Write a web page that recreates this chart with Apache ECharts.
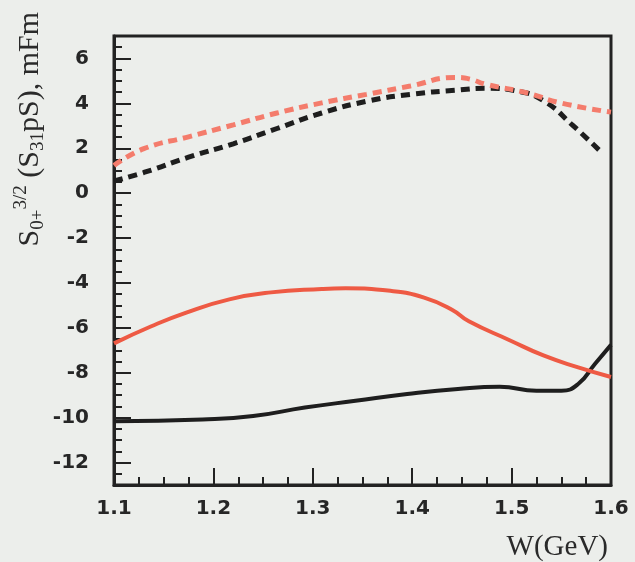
<!DOCTYPE html>
<html>
<head>
<meta charset="utf-8">
<script src="https://cdn.jsdelivr.net/npm/echarts@6/dist/echarts.min.js"></script>
<style>
html,body{margin:0;padding:0;background:#eceeeb}
#chart{width:635px;height:562px}
</style>
</head>
<body>
<div id="chart"></div>
<script>
// x tick labels (GeV) and y tick labels (mFm)
var xTicks = [1.1, 1.2, 1.3, 1.4, 1.5, 1.6];
var yTicks = [-12, -10, -8, -6, -4, -2, 0, 2, 4, 6];

// solid black curve
var wBlack = [1.10, 1.189, 1.24, 1.292, 1.343, 1.395, 1.446, 1.488, 1.525, 1.55, 1.567, 1.584, 1.60];
var sBlack = [-10.16, -10.08, -9.93, -9.55, -9.25, -8.95, -8.72, -8.62, -8.80, -8.80, -8.50, -7.60, -6.76];

// solid red curve
var wRed = [1.10, 1.137, 1.172, 1.216, 1.258, 1.309, 1.333, 1.378, 1.412, 1.44, 1.457, 1.498, 1.532, 1.567, 1.60];
var sRed = [-6.69, -5.94, -5.33, -4.73, -4.42, -4.27, -4.24, -4.35, -4.65, -5.19, -5.71, -6.55, -7.23, -7.76, -8.19];

// dashed black curve
var wBlackDash = [1.10, 1.13, 1.175, 1.22, 1.264, 1.309, 1.354, 1.398, 1.443, 1.474, 1.505, 1.533, 1.561, 1.589];
var sBlackDash = [0.54, 0.92, 1.60, 2.20, 2.88, 3.57, 4.09, 4.40, 4.58, 4.67, 4.55, 4.09, 3.04, 1.88];

// dashed red curve
var wRedDash = [1.10, 1.13, 1.175, 1.22, 1.264, 1.309, 1.354, 1.398, 1.443, 1.458, 1.474, 1.515, 1.549, 1.60];
var sRedDash = [1.23, 1.98, 2.51, 3.04, 3.57, 4.02, 4.40, 4.77, 5.15, 5.08, 4.85, 4.47, 4.02, 3.61];

function pairs(xs, ys) {
	var out = [];
	for (var i = 0; i < xs.length; i++) {
		out.push([xs[i], ys[i]]);
	}
	return out;
}

//   minor ticks: every 0.5 on y, every 0.025 on x
var yMinor = [];
for (var v = -13; v <= 7; v += 0.5) {
	yMinor.push(v);
}
var xMinor = [];
for (var k = 0; k <= 20; k++) {
	xMinor.push(+(1.1 + k * 0.025).toFixed(3));
}

var labelFont = {
	fontFamily: 'DejaVu Sans',
	fontWeight: 'bold',
	fontSize: 20,
	color: '#262626'
};
var frame = { show: true, onZero: false, lineStyle: { color: '#222', width: 3 } };
var tickStyle = { color: '#222', width: 2 };

var myChart = echarts.init(document.getElementById('chart'));

var option = {
	backgroundColor: '#eceeeb',
	animation: false,
	grid: {
		left: 114,
		right: 24,
		top: 36,
		bottom: 76,
		show: true,
		borderColor: '#222',
		borderWidth: 3,
		backgroundColor: 'transparent'
	},
	xAxis: [{
		type: 'value',
		min: 1.1,
		max: 1.6,
		axisLine: frame,
		axisTick: { show: true, inside: true, length: 17, customValues: xTicks, lineStyle: tickStyle },
		splitLine: { show: false },
		axisLabel: Object.assign({
			customValues: xTicks,
			margin: 14,
			formatter: function (val) { return val.toFixed(1); }
		}, labelFont),
		name: 'W(GeV)',
		nameLocation: 'end',
		nameGap: -3,
		nameTextStyle: {
			fontFamily: 'Liberation Serif',
			fontSize: 29,
			color: '#2a2a2a',
			align: 'right',
			verticalAlign: 'top',
			padding: [48, 0, 0, 0]
		}
	}, {
		//   x minor ticks only
		type: 'value',
		min: 1.1,
		max: 1.6,
		position: 'bottom',
		axisLine: { show: false, onZero: false },
		axisTick: { show: true, inside: true, length: 8, customValues: xMinor, lineStyle: tickStyle },
		splitLine: { show: false },
		axisLabel: { show: false }
	}],
	yAxis: [{
		type: 'value',
		min: -13,
		max: 7,
		axisLine: frame,
		axisTick: { show: true, inside: true, length: 17, customValues: yTicks, lineStyle: tickStyle },
		splitLine: { show: false },
		axisLabel: Object.assign({
			customValues: yTicks,
			margin: 25
		}, labelFont)
	}, {
		//   y minor ticks only
		type: 'value',
		min: -13,
		max: 7,
		position: 'left',
		axisLine: { show: false, onZero: false },
		axisTick: { show: true, inside: true, length: 8, customValues: yMinor, lineStyle: tickStyle },
		splitLine: { show: false },
		axisLabel: { show: false }
	}],
	graphic: [{
		type: 'text',
		left: 12,
		top: 12,
		rotation: Math.PI / 2,
		style: {
			text: '{m|S}{sub|0+}{sup|3/2}{m| (S}{sub|31}{m|pS), mFm}',
			fill: '#2a2a2a',
			rich: {
				m: { fontFamily: 'Liberation Serif', fontSize: 30, lineHeight: 36, verticalAlign: 'middle', fill: '#2a2a2a' },
				sub: { fontFamily: 'Liberation Serif', fontSize: 19, lineHeight: 26, verticalAlign: 'bottom', fill: '#2a2a2a' },
				sup: { fontFamily: 'Liberation Serif', fontSize: 19, lineHeight: 26, verticalAlign: 'top', fill: '#2a2a2a' }
			}
		}
	}],
	series: [{
		type: 'line',
		data: pairs(wBlack, sBlack),
		smooth: true,
		showSymbol: false,
		lineStyle: { color: '#1e1e1e', width: 4 }
	}, {
		type: 'line',
		data: pairs(wRed, sRed),
		smooth: true,
		showSymbol: false,
		lineStyle: { color: '#ee5a44', width: 4 }
	}, {
		type: 'line',
		data: pairs(wBlackDash, sBlackDash),
		smooth: true,
		showSymbol: false,
		lineStyle: { color: '#1e1e1e', width: 5, type: [9, 6] }
	}, {
		type: 'line',
		data: pairs(wRedDash, sRedDash),
		smooth: true,
		showSymbol: false,
		lineStyle: { color: '#f47c6c', width: 5, type: [9, 6] }
	}]
};

myChart.setOption(option);
</script>
</body>
</html>
